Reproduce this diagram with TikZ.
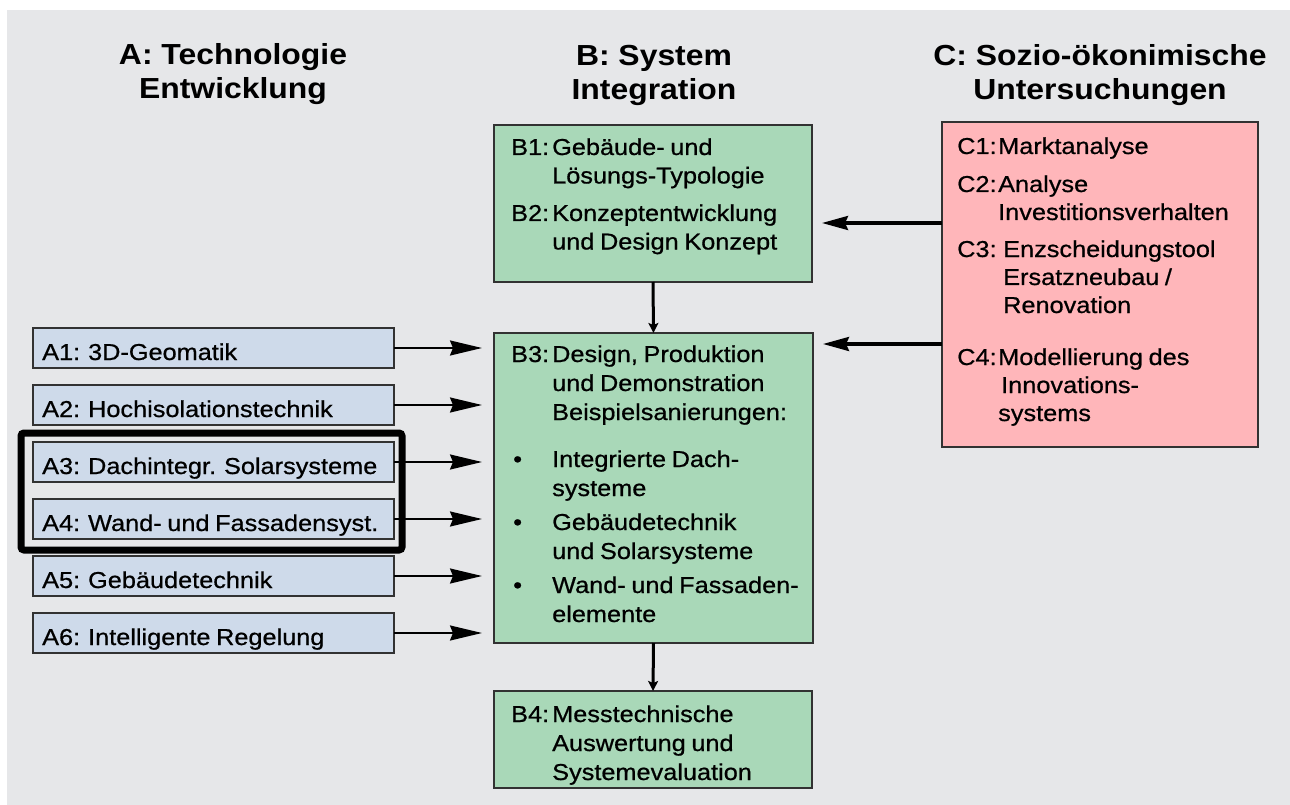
\documentclass[tikz,border=0pt]{standalone}
\usepackage{fontspec}
\setmainfont{Liberation Sans}[FakeStretch=1.1]
\newfontfamily\boxfont{Liberation Sans}[FakeStretch=1.1,FakeBold=0.7,WordSpace=0.8]
\usetikzlibrary{arrows.meta}
\definecolor{bgcol}{RGB}{230,231,233}
\definecolor{greenbox}{RGB}{169,216,184}
\definecolor{pinkbox}{RGB}{255,182,186}
\definecolor{bluebox}{RGB}{206,218,234}
\definecolor{edgecol}{RGB}{50,50,50}
\begin{document}
\begin{tikzpicture}[x=1pt,y=-1pt,
  box/.style={draw=edgecol,line width=1.3pt,anchor=north west,inner sep=0pt,outer sep=0pt},
  gbox/.style={box,fill=greenbox},
  pbox/.style={box,fill=pinkbox},
  abox/.style={box,fill=bluebox,minimum width=361pt,minimum height=40pt,anchor=west},
  txt/.style={inner sep=0pt,anchor=base west,font=\boxfont\fontsize{23}{28.5}\selectfont},
  hdr/.style={inner sep=0pt,anchor=base,font=\fontsize{29}{33.5}\selectfont\bfseries},
  aarrow/.style={line width=2pt,-{Stealth[length=32pt,width=15pt,inset=3pt]},shorten >=12pt},
  carrow/.style={line width=3.3pt,-{Stealth[length=26pt,width=14pt,inset=3pt]},shorten >=10pt},
  varrow/.style={line width=3pt,-{Stealth[length=10pt,width=10pt,inset=2pt]}},
  frame/.style={draw=black,line width=7pt,rounded corners=3pt}
]
\useasboundingbox (0,0) rectangle (1290,805);
\fill[bgcol] (7,10) rectangle (1290,805);

% headers
\node[hdr] (hA) at (233,65) {\begin{tabular}[t]{@{}c@{}}A: Technologie\\Entwicklung\end{tabular}};
\node[hdr] (hB) at (654,66) {\begin{tabular}[t]{@{}c@{}}B: System\\Integration\end{tabular}};
\node[hdr] (hC) at (1100,66) {\begin{tabular}[t]{@{}c@{}}C: Sozio-ökonimische\\Untersuchungen\end{tabular}};

% B boxes
\node[gbox,minimum width=318pt,minimum height=157pt] (b12) at (494,125) {};
\node[gbox,minimum width=319pt,minimum height=310pt] (b3) at (494,333) {};
\node[gbox,minimum width=318pt,minimum height=97pt] (b4) at (494,691) {};
% C box
\node[pbox,minimum width=316pt,minimum height=325pt] (c) at (942,122) {};

% B texts
\node[txt] (tb1) at (511,155) {\begin{tabular}[t]{@{}p{41pt}@{}l@{}}B1:&Gebäude- und\\&Lösungs-Typologie\end{tabular}};
\node[txt] (tb2) at (511,221) {\begin{tabular}[t]{@{}p{41pt}@{}l@{}}B2:&Konzeptentwicklung\\&und Design Konzept\end{tabular}};
\node[txt,font=\boxfont\fontsize{23}{29}\selectfont] (tb3) at (511,362) {\begin{tabular}[t]{@{}p{41pt}@{}l@{}}B3:&Design, Produktion\\&und Demonstration\\&Beispielsanierungen:\end{tabular}};
\node[txt,font=\boxfont\fontsize{23}{29}\selectfont] (tb3a) at (513,467) {\begin{tabular}[t]{@{}p{39pt}@{}l@{}}•&Integrierte Dach-\\&systeme\end{tabular}};
\node[txt,font=\boxfont\fontsize{23}{29}\selectfont] (tb3b) at (513,530) {\begin{tabular}[t]{@{}p{39pt}@{}l@{}}•&Gebäudetechnik\\&und Solarsysteme\end{tabular}};
\node[txt,font=\boxfont\fontsize{23}{29}\selectfont] (tb3c) at (513,593) {\begin{tabular}[t]{@{}p{39pt}@{}l@{}}•&Wand- und Fassaden-\\&elemente\end{tabular}};
\node[txt,font=\boxfont\fontsize{23}{29}\selectfont] (tb4) at (511,722) {\begin{tabular}[t]{@{}p{41pt}@{}l@{}}B4:&Messtechnische\\&Auswertung und\\&Systemevaluation\end{tabular}};

% C texts
\node[txt] (tc1) at (957,154) {\begin{tabular}[t]{@{}p{41pt}@{}l@{}}C1:&Marktanalyse\end{tabular}};
\node[txt,font=\boxfont\fontsize{23}{28}\selectfont] (tc2) at (957,192) {\begin{tabular}[t]{@{}p{41pt}@{}l@{}}C2:&Analyse\\&Investitionsverhalten\end{tabular}};
\node[txt,font=\boxfont\fontsize{23}{28}\selectfont] (tc3) at (957,257) {\begin{tabular}[t]{@{}p{46pt}@{}l@{}}C3:&Enzscheidungstool\\&Ersatzneubau /\\&Renovation\end{tabular}};
\node[txt,font=\boxfont\fontsize{23}{28}\selectfont] (tc4) at (957,365) {\begin{tabular}[t]{@{}p{41pt}@{}l@{}}C4:&Modellierung des\\&\hspace{3pt}Innovations-\\&systems\end{tabular}};

% A boxes
\node[abox] (a1) at (33,348) {};
\node[abox] (a2) at (33,405) {};
\node[abox] (a3) at (33,462) {};
\node[abox] (a4) at (33,519) {};
\node[abox] (a5) at (33,576) {};
\node[abox] (a6) at (33,633) {};
\node[txt] (ta1) at (42,360) {A1: 3D-Geomatik};
\node[txt] (ta2) at (42,417) {A2: Hochisolationstechnik};
\node[txt] (ta3) at (42,474) {A3: Dachintegr. Solarsysteme};
\node[txt] (ta4) at (42,531) {A4: Wand- und Fassadensyst.};
\node[txt] (ta5) at (42,588) {A5: Gebäudetechnik};
\node[txt] (ta6) at (42,645) {A6: Intelligente Regelung};

% highlight frame
\draw[frame] (21,433) rectangle (402,550);

% arrows A -> B3
\foreach \n in {a1,a2,a3,a4,a5,a6}{
  \draw[aarrow] (\n.east) -- (\n.east -| b3.west);
}
% arrows C -> B
\draw[carrow] (c.west |- 0,223) -- (b12.east |- 0,223);
\draw[carrow] (c.west |- 0,344) -- (b3.east |- 0,344);
% vertical arrows
\draw[varrow] (b12.south) -- (b3.north);
\draw[varrow] (b3.south) -- (b4.north);
\end{tikzpicture}
\end{document}
